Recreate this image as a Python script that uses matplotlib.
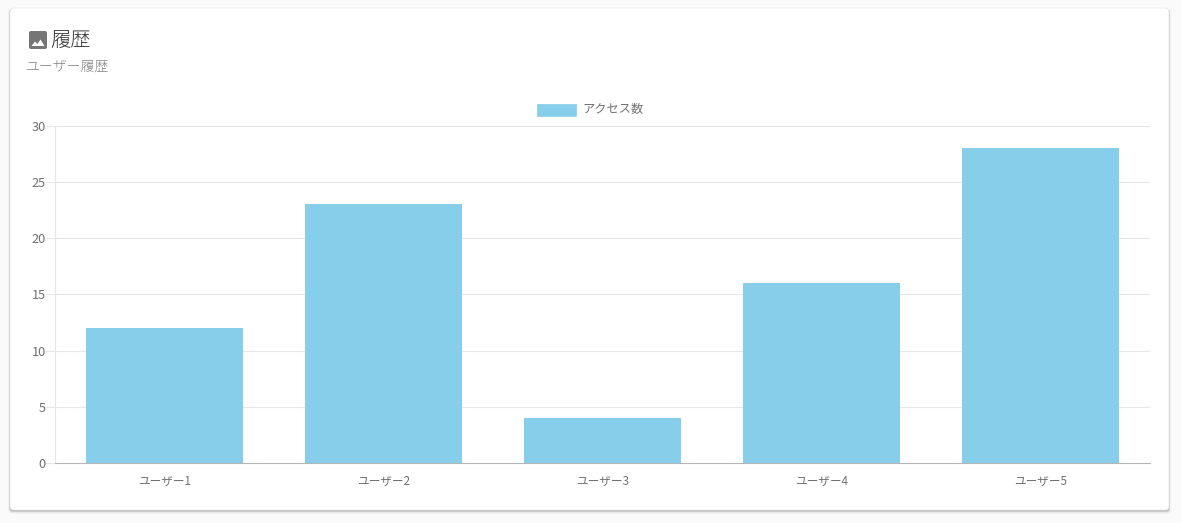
import matplotlib
matplotlib.use("Agg")
import matplotlib.pyplot as plt
from matplotlib.patches import FancyBboxPatch, Polygon, Rectangle

plt.rcParams['font.family'] = ['Noto Sans CJK JP', 'DejaVu Sans']

users = ['ユーザー1', 'ユーザー2', 'ユーザー3', 'ユーザー4', 'ユーザー5']
access_counts = [12, 23, 4, 16, 28]
y_ticks = [0, 5, 10, 15, 20, 25, 30]
series_name = 'アクセス数'
title_text = '履歴'
subtitle_text = 'ユーザー履歴'

W, H = 1181, 523
fig = plt.figure(figsize=(W / 100, H / 100), dpi=100, facecolor='#fafafa')

# overlay in pixel coordinates (y down)
bg = fig.add_axes([0, 0, 1, 1], zorder=0)
bg.set_xlim(0, W)
bg.set_ylim(H, 0)
bg.axis('off')

# card shadow layers
for off, grow, col in [(2.0, 1.4, '#e8e8e8'), (1.2, 0.8, '#cccccc'), (0.7, 0.2, '#a8a8a8')]:
    bg.add_patch(FancyBboxPatch((10 - grow, 8 + off - grow), 1159 + 2 * grow, 502 + 2 * grow,
                                boxstyle='round,pad=0,rounding_size=4', fc=col, ec='none'))
bg.add_patch(FancyBboxPatch((10, 8), 1159, 502, boxstyle='round,pad=0,rounding_size=4',
                            fc='white', ec='#ececec', lw=0.6))

# image icon
bg.add_patch(FancyBboxPatch((29, 31), 18, 18, boxstyle='round,pad=0,rounding_size=2',
                            fc='#757575', ec='none'))
bg.add_patch(Polygon([(31.5, 46), (35, 41.5), (37.5, 44), (40.5, 39.5), (44.5, 46)],
                     closed=True, fc='white', ec='none'))

bg.text(50, 40, title_text, fontsize=14.6, color='#333333', va='center', ha='left', fontweight='light')
bg.text(26, 67, subtitle_text, fontsize=10, color='#808080', va='center', ha='left', fontweight='light')

# legend
bg.add_patch(Rectangle((536.5, 104), 39, 11.5, fc='#87ceeb', ec='#87ceeb', lw=0.5))
bg.text(582, 110, series_name, fontsize=8.8, color='#707070', va='center', ha='left')

# chart
left, right, top, bottom = 55, 1150, 125.7, 463
ax = fig.add_axes([left / W, 1 - bottom / H, (right - left) / W, (bottom - top) / H], zorder=1)
ax.patch.set_alpha(0)
x = list(range(len(users)))
ax.bar(x, access_counts, width=0.72, color='#87ceeb', zorder=2)
ax.set_xlim(-0.5, len(users) - 0.5)
ax.set_ylim(0, 30)
ax.set_yticks(y_ticks)
ax.set_xticks(x)
ax.set_xticklabels(users)
ax.grid(axis='y', color='#e6e6e6', lw=0.8, zorder=1)
ax.tick_params(axis='y', length=7.2, width=0.8, color='#e6e6e6', labelsize=9.2,
               labelcolor='#707070', pad=-0.5)
ax.tick_params(axis='x', length=0, labelsize=8.4, labelcolor='#707070', pad=8.5)
for s in ['top', 'right']:
    ax.spines[s].set_visible(False)
ax.spines['left'].set_color('#e6e6e6')
ax.spines['left'].set_linewidth(0.8)
ax.spines['bottom'].set_color('#b5b5b5')
ax.spines['bottom'].set_linewidth(0.8)

fig.savefig('out.png', dpi=100, facecolor=fig.get_facecolor())
